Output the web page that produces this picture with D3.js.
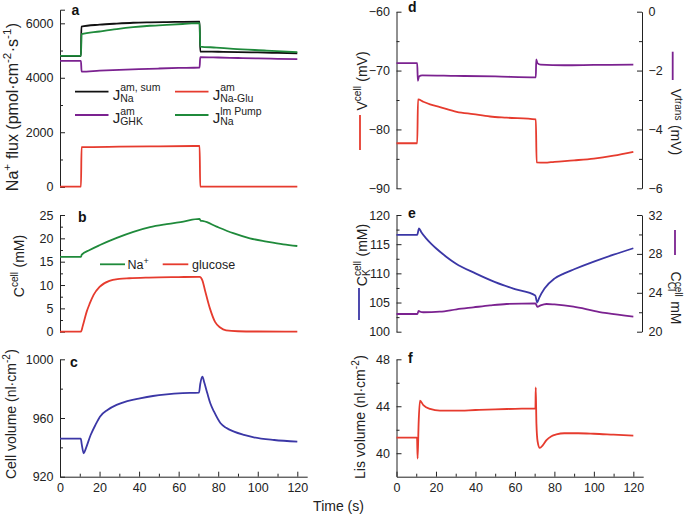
<!DOCTYPE html>
<html><head><meta charset="utf-8">
<script src="https://cdn.jsdelivr.net/npm/d3@7"></script>
<style>
body{margin:0;background:#fff}
svg{display:block}
text{font-family:'Liberation Sans',Arial,Helvetica,sans-serif;fill:#222;white-space:pre}
</style>
</head><body>
<svg id="chart" width="685" height="515"></svg>
<script>
// ---------- DATA (time s, value) ----------
const xTicks = [0,20,40,60,80,100,120];
const xMinor = [10,30,50,70,90,110];

// Panel a: Na+ flux (pmol cm-2 s-1)
const jNaSum = [[0,4800],[10.6,4800],[10.8,5880],[20,5950],[28.7,5990],[37,6020],[45.5,6035],[54,6045],[70.6,6060],[70.9,4963],[80,4955],[90,4945],[100,4930],[110,4915],[120,4900]];
const jNaGlu = [[0,0],[10.6,0],[10.9,1450],[30,1468],[50,1482],[70.6,1495],[70.9,0],[120,0]];
const jGHK   = [[0,4620],[10.6,4620],[10.9,4228],[20,4262],[30,4292],[40,4318],[50,4340],[60,4360],[70.6,4378],[70.9,4758],[80,4745],[90,4727],[100,4710],[110,4697],[120,4684]];
const jPump  = [[0,4805],[10.6,4805],[10.9,5600],[20,5700],[28.7,5790],[37,5860],[45.5,5910],[54,5945],[62,5975],[70.6,6005],[70.9,5147],[79,5110],[87.6,5062],[104.5,5000],[120,4940]];

// Panel b: C cell (mM)
const naCell  = [[0,16.05],[10.6,16.05],[11,16.5],[15,17.5],[20.2,18.57],[28.7,20.1],[37.1,21.4],[45.5,22.4],[53.9,23.05],[62.4,23.6],[70.5,24.15],[71.2,23.75],[72.5,23.7],[79.2,22.5],[87.6,21.1],[96,20.0],[104.5,19.3],[112.9,18.7],[120,18.36]];
const gluCell = [[0,0],[10.6,0],[11.5,1.2],[13.5,4.3],[15,6.0],[17,7.9],[20,9.6],[25,10.9],[30,11.3],[35,11.45],[45,11.6],[60,11.7],[70.6,11.75],[72,11.0],[73.3,8.9],[75.8,5.0],[78.4,2.1],[81,0.9],[84,0.3],[90,0.1],[100,0.04],[120,0.02]];

// Panel c: cell volume (nl cm-2)
const cellVol = [[0,945.9],[10.5,945.9],[11,942],[12,935.9],[13,939],[15.5,948.4],[18,955.5],[20.2,960.9],[24,965.5],[28.6,968.9],[34,971.5],[40.4,973.4],[47,975],[53.9,976.1],[62,976.9],[70.3,977.3],[70.9,983],[72,988.1],[73,984],[74.5,976.8],[76,970],[77.9,964.3],[81.2,956.4],[84,953.3],[88,950.7],[93,948.5],[98,946.8],[108.3,945],[120,943.9]];

// Panel d: membrane potentials (mV)
const vCell  = [[0,-82.35],[10.5,-82.35],[10.9,-74.9],[13.6,-75.3],[17,-75.75],[22,-76.2],[30.5,-77.0],[38.9,-77.4],[47.4,-77.8],[55.8,-78.0],[70.6,-78.3],[71,-85.6],[75,-85.65],[80,-85.5],[90,-85.25],[100,-84.95],[110,-84.45],[120,-83.8]];
const vTrans = [[0,-1.75],[10.5,-1.75],[10.8,-2.35],[11.4,-2.2],[13,-2.16],[30,-2.18],[50,-2.2],[70.6,-2.23],[70.8,-1.62],[71.4,-1.75],[73,-1.8],[85,-1.82],[100,-1.81],[120,-1.8]];

// Panel e: K and Cl in cell (mM)
const kCell  = [[0,116.6],[10.5,116.6],[11.4,117.7],[12.5,117.1],[15,116.0],[17.5,115.1],[20,114.3],[25,112.9],[30,111.7],[40,110],[50,108.5],[60,107.3],[70.3,106.2],[71.3,105.0],[72.3,105.8],[75,107.4],[80,109.1],[85,110],[90,110.7],[100,112],[110,113.2],[120,114.3]];
const clCell = [[0,21.82],[10.6,21.82],[11.2,22.15],[12,22.05],[13.6,22.0],[22,22.06],[30.5,22.3],[38.9,22.5],[47.4,22.7],[55.8,22.85],[70.4,22.92],[71.4,22.55],[73,22.7],[76,22.85],[80,22.8],[89.7,22.57],[100,22.15],[106.6,21.9],[120,21.55]];

// Panel f: Lis volume (nl cm-2)
const lisVol = [[0,41.32],[10.4,41.32],[10.7,39.55],[11.2,42.5],[11.9,44.47],[13.6,44.1],[17,43.77],[22,43.62],[30,43.62],[40,43.68],[50,43.74],[60,43.78],[70.4,43.82],[70.55,45.6],[70.9,42.5],[71.5,41.0],[72.6,40.45],[74,40.65],[76,41.12],[78.5,41.45],[81,41.6],[85,41.7],[92,41.7],[100,41.66],[110,41.58],[120,41.5]];

// ---------- STYLE ----------
const C = {black:'#111111', red:'#e63b2e', green:'#1f8a3b', purple:'#7b2290', blue:'#3b37a6'};
const TICK_FS = 12.5;

const svg = d3.select('#chart');

// scales
const xL = d3.scaleLinear().domain([0,125]).range([60,307.2]);
const xR = d3.scaleLinear().domain([0,125]).range([396.5,643.2]);
const yA = d3.scaleLinear().domain([0,6500]).range([186.7,9.7]);
const yB = d3.scaleLinear().domain([0,25]).range([331.7,215]);
const yC = d3.scaleLinear().domain([920,1000]).range([476.7,359.3]);
const yD = d3.scaleLinear().domain([-90,-60]).range([188.3,11.7]);
const yD2 = d3.scaleLinear().domain([-6,0]).range([188.3,11.7]);
const yE = d3.scaleLinear().domain([100,120]).range([331.7,215]);
const yE2 = d3.scaleLinear().domain([20,32]).range([331.7,215]);
const yF = d3.scaleLinear().domain([38,48]).range([476.7,359.3]);

function styleAxis(g){
  g.attr('font-size', TICK_FS).attr('font-family', null).attr('color', '#222');
  g.selectAll('line').attr('stroke-width', 1);
  g.select('.domain').attr('stroke-width', 1);
}
function yAxis(scale, x, majors, minors, side, outer){
  const mk = side === 'left' ? d3.axisLeft : d3.axisRight;
  const g = svg.append('g').attr('transform', `translate(${x},0)`)
    .call(mk(scale).tickValues(majors).tickSize(-5).tickSizeOuter(outer ? -5 : 0).tickPadding(6.5).tickFormat(d3.format('d')));
  styleAxis(g);
  const gm = svg.append('g').attr('transform', `translate(${x},0)`)
    .call(mk(scale).tickValues(minors).tickSize(-3).tickFormat(''));
  gm.select('.domain').remove();
  styleAxis(gm);
}
function xAxis(scale, y){
  const g = svg.append('g').attr('transform', `translate(0,${y})`)
    .call(d3.axisBottom(scale).tickValues(xTicks).tickSize(-5).tickSizeOuter(0).tickPadding(6.4));
  styleAxis(g);
  const gm = svg.append('g').attr('transform', `translate(0,${y})`)
    .call(d3.axisBottom(scale).tickValues(xMinor).tickSize(-3).tickFormat(''));
  gm.select('.domain').remove();
  styleAxis(gm);
}
function series(xs, ys, data, color){
  const line = d3.line().x(d => xs(d[0])).y(d => ys(d[1])).curve(d3.curveMonotoneX);
  svg.append('path').datum(data).attr('d', line)
    .attr('fill','none').attr('stroke', color).attr('stroke-width', 1.8)
    .attr('stroke-linejoin','round');
}
// rich text: parts = strings or {sup, sub}
function rich(x, y, parts, size, rot, anchor, supShift){
  const g = svg.append('g').attr('transform', `translate(${x},${y}) rotate(${rot||0})`);
  const inner = g.append('g');
  let cx = 0;
  const small = size * 0.72;
  const ss = supShift == null ? 0.40 : supShift;
  parts.forEach(p => {
    if (typeof p === 'string'){
      const t = inner.append('text').attr('x', cx).attr('y', 0).style('font-size', size+'px').text(p);
      cx += t.node().getComputedTextLength();
    } else {
      let w = 0;
      if (p.sup){
        const t = inner.append('text').attr('x', cx).attr('y', -size*ss).style('font-size', small+'px').text(p.sup);
        w = Math.max(w, t.node().getComputedTextLength());
      }
      if (p.sub){
        const t = inner.append('text').attr('x', cx).attr('y', size*0.22).style('font-size', small+'px').text(p.sub);
        w = Math.max(w, t.node().getComputedTextLength());
      }
      cx += w + 0.5;
    }
  });
  if (anchor === 'middle') inner.attr('transform', `translate(${-cx/2},0)`);
  return g;
}
function panelLetter(x, y, s){
  svg.append('text').attr('x', x).attr('y', y).style('font-size','14px').style('font-weight','bold').style('fill','#111').text(s);
}
function dash(x1,y1,x2,y2,color){
  svg.append('line').attr('x1',x1).attr('y1',y1).attr('x2',x2).attr('y2',y2).attr('stroke',color).attr('stroke-width',1.8);
}

// ---------- Panel a ----------
yAxis(yA, 60, [0,2000,4000,6000], [1000,3000,5000], 'left', true);
series(xL, yA, jNaGlu, C.red);
series(xL, yA, jGHK, C.purple);
series(xL, yA, jNaSum, C.black);
series(xL, yA, jPump, C.green);
panelLetter(71.5, 14.5, 'a');
rich(17.5, 107, ['Na', {sup:'+'}, ' flux (pmol·cm', {sup:'-2'}, '·s', {sup:'-1'}, ')'], 16, -90, 'middle');
// legend a
const legA = [
  {c:C.black,  x:75,  y:91.7, sup:'am, sum', sub:'Na'},
  {c:C.red,    x:175, y:91.7, sup:'am', sub:'Na-Glu'},
  {c:C.purple, x:75,  y:115,  sup:'am', sub:'GHK'},
  {c:C.green,  x:175, y:115,  sup:'lm Pump', sub:'Na'}
];
legA.forEach(d => {
  dash(d.x, d.y, d.x + 33.5, d.y, d.c);
  svg.append('text').attr('x', d.x + 37.7).attr('y', d.y + 8.3).style('font-size','15px').text('J');
  svg.append('text').attr('x', d.x + 45.2).attr('y', d.y - 0.3).style('font-size','10.5px').text(d.sup);
  svg.append('text').attr('x', d.x + 45.2).attr('y', d.y + 10.3).style('font-size','10.5px').text(d.sub);
});

// ---------- Panel b ----------
yAxis(yB, 60, [0,5,10,15,20,25], [2.5,7.5,12.5,17.5,22.5], 'left', false);
series(xL, yB, naCell, C.green);
series(xL, yB, gluCell, C.red);
panelLetter(78, 222.3, 'b');
rich(24, 266, ['C', {sup:'cell'}, ' (mM)'], 14, -90, 'middle');
dash(100, 264.3, 125, 264.3, C.green);
rich(127.5, 269, ['Na', {sup:'+'}], 12.5, 0, 'start');
dash(162.7, 264.3, 188.3, 264.3, C.red);
svg.append('text').attr('x', 192).attr('y', 269).style('font-size','12.5px').text('glucose');

// ---------- Panel c ----------
yAxis(yC, 60, [920,960,1000], [940,980], 'left', false);
xAxis(xL, 476.7);
series(xL, yC, cellVol, C.blue);
panelLetter(70, 366.7, 'c');
rich(15.5, 414, ['Cell volume (nl·cm', {sup:'-2'}, ')'], 14, -90, 'middle');

// ---------- Panel d ----------
yAxis(yD, 396.5, [-90,-80,-70,-60], [-85,-75,-65], 'left', false);
yAxis(yD2, 642, [-6,-4,-2,0], [-5,-3,-1], 'right', false);
series(xR, yD2, vTrans, C.purple);
series(xR, yD, vCell, C.red);
panelLetter(408, 11.7, 'd');
rich(366.5, 81, ['V', {sup:'cell'}, ' (mV)'], 14, -90, 'middle');
dash(360, 115, 360, 150, C.red);
rich(670.5, 122, ['V', {sup:'trans'}, ' (mV)'], 14, 90, 'middle', 0.32);
dash(672.7, 51.7, 672.7, 80, C.purple);

// ---------- Panel e ----------
yAxis(yE, 396.5, [100,105,110,115,120], [102.5,107.5,112.5,117.5], 'left', false);
yAxis(yE2, 642, [20,24,28,32], [22,26,30], 'right', false);
series(xR, yE2, clCell, C.purple);
series(xR, yE, kCell, C.blue);
panelLetter(408, 217.7, 'e');
rich(367, 255, ['C', {sup:'cell', sub:'K'}, ' (mM)'], 14, -90, 'middle');
dash(359, 288, 359, 320, C.blue);
rich(671, 298, ['C', {sup:'cell', sub:'Cl'}, ' mM'], 14, 90, 'middle', 0.32);
dash(675, 230, 675, 255, C.purple);

// ---------- Panel f ----------
yAxis(yF, 396.5, [40,44,48], [42,46], 'left', false);
xAxis(xR, 476.7);
series(xR, yF, lisVol, C.red);
panelLetter(408, 362.7, 'f');
rich(365, 417, ['Lis volume (nl·cm', {sup:'-2'}, ')'], 14, -90, 'middle');

// shared x title
svg.append('text').attr('x', 338.5).attr('y', 511).attr('text-anchor','middle').style('font-size','14px').text('Time (s)');
</script>
</body></html>
